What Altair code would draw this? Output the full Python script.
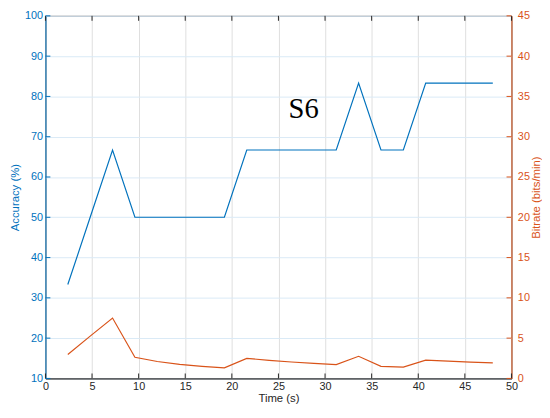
import altair as alt
import pandas as pd

# ---- data ----
time_s = [2.4, 4.8, 7.2, 9.6, 12.0, 14.4, 16.8, 19.2, 21.6, 24.0,
          26.4, 28.8, 31.2, 33.6, 36.0, 38.4, 40.8, 43.2, 45.6, 48.0]
accuracy = [33.3, 50.0, 66.7, 50.0, 50.0, 50.0, 50.0, 50.0, 66.7, 66.7,
            66.7, 66.7, 66.7, 83.3, 66.7, 66.7, 83.3, 83.3, 83.3, 83.3]
bitrate = [2.96, 5.25, 7.49, 2.63, 2.10, 1.75, 1.50, 1.31, 2.49, 2.25,
           2.04, 1.87, 1.72, 2.75, 1.50, 1.40, 2.26, 2.14, 2.03, 1.93]

x_ticks = [0, 5, 10, 15, 20, 25, 30, 35, 40, 45, 50]
acc_ticks = [10, 20, 30, 40, 50, 60, 70, 80, 90, 100]
bit_ticks = [0, 5, 10, 15, 20, 25, 30, 35, 40, 45]

label_text = ["S6"]
label_x = [27.7]
label_y = [74.7]

BLUE = "#0072BD"
ORANGE = "#D95319"
DARK = "#262626"
W, H = 473, 368
TICK = 5
FONT = "Liberation Sans"

df = pd.DataFrame({"t": time_s, "acc": accuracy, "bit": bitrate})
xt = pd.DataFrame({"v": x_ticks})
at = pd.DataFrame({"v": acc_ticks})
bt = pd.DataFrame({"v": bit_ticks})
lab = pd.DataFrame({"txt": label_text, "x": label_x, "y": label_y})

xscale = alt.Scale(domain=[0, 50], nice=False, zero=False)
accscale = alt.Scale(domain=[10, 100], nice=False, zero=False)
bitscale = alt.Scale(domain=[0, 45], nice=False, zero=False)

acc_line = alt.Chart(df).mark_line(color=BLUE, strokeWidth=1.2).encode(
    x=alt.X("t:Q", scale=xscale, title="Time (s)",
            axis=alt.Axis(orient="bottom", values=x_ticks, grid=True, gridColor="#dedede",
                          gridWidth=1, tickSize=0, labelPadding=2, labelColor=DARK,
                          labelFontSize=11, labelFont=FONT, titleFont=FONT,
                          titleFontSize=11.5, titleFontWeight="normal", titleColor=DARK,
                          titleBaseline="alphabetic", titleY=23,
                          domainColor=DARK, domainWidth=1, labelFlush=False)),
    y=alt.Y("acc:Q", scale=accscale, title="Accuracy (%)",
            axis=alt.Axis(orient="left", values=acc_ticks, grid=True, gridColor="#d9eaf6",
                          gridWidth=1, tickSize=0, labelPadding=3, labelColor=BLUE,
                          labelFontSize=11, labelFont=FONT, titleFont=FONT,
                          titleFontSize=11.5, titleFontWeight="normal", titleColor=BLUE,
                          titleBaseline="alphabetic", titleX=-27.5,
                          domainColor=BLUE, domainWidth=1, labelFlush=False)),
)

bit_line = alt.Chart(df).mark_line(color=ORANGE, strokeWidth=1.2).encode(
    x=alt.X("t:Q", scale=xscale, axis=None),
    y=alt.Y("bit:Q", scale=bitscale, title="Bitrate (bits/min)",
            axis=alt.Axis(orient="right", values=bit_ticks, grid=False, tickSize=0,
                          labelPadding=6, labelColor=ORANGE, labelFontSize=11,
                          labelFont=FONT, titleFont=FONT, titleFontSize=11.5,
                          titleFontWeight="normal", titleColor=ORANGE,
                          titleAngle=270, titleBaseline="alphabetic", titleX=28,
                          domainColor=ORANGE, domainWidth=1, labelFlush=False)),
)

xt_bottom = alt.Chart(xt).mark_rule(color=DARK, strokeWidth=1).encode(
    x=alt.X("v:Q", scale=xscale, axis=None),
    y=alt.value(H - TICK), y2=alt.value(H))
xt_top = alt.Chart(xt).mark_rule(color=DARK, strokeWidth=1).encode(
    x=alt.X("v:Q", scale=xscale, axis=None),
    y=alt.value(0), y2=alt.value(TICK))
acc_t = alt.Chart(at).mark_rule(color=BLUE, strokeWidth=1).encode(
    y=alt.Y("v:Q", scale=accscale, axis=None),
    x=alt.value(0), x2=alt.value(TICK))
bit_t = alt.Chart(bt).mark_rule(color=ORANGE, strokeWidth=1).encode(
    y=alt.Y("v:Q", scale=bitscale, axis=None),
    x=alt.value(W - TICK), x2=alt.value(W))

s6 = alt.Chart(lab).mark_text(font="Liberation Serif", fontSize=29, color="black",
                              align="center", baseline="alphabetic").encode(
    x=alt.X("x:Q", scale=xscale, axis=None),
    y=alt.Y("y:Q", scale=accscale, axis=None),
    text="txt:N")

chart = alt.layer(acc_line, bit_line, xt_bottom, xt_top, acc_t, bit_t, s6).resolve_scale(
    y="independent"
).resolve_axis(
    x="independent", y="independent"
).properties(
    width=W, height=H,
    autosize=alt.AutoSizeParams(type="none"),
    padding={"left": 38, "top": 5, "right": 31, "bottom": 24},
    background="white",
).configure_view(stroke=DARK, strokeWidth=1)

chart.save("out.html", embed_options={"renderer": "svg", "actions": False})
